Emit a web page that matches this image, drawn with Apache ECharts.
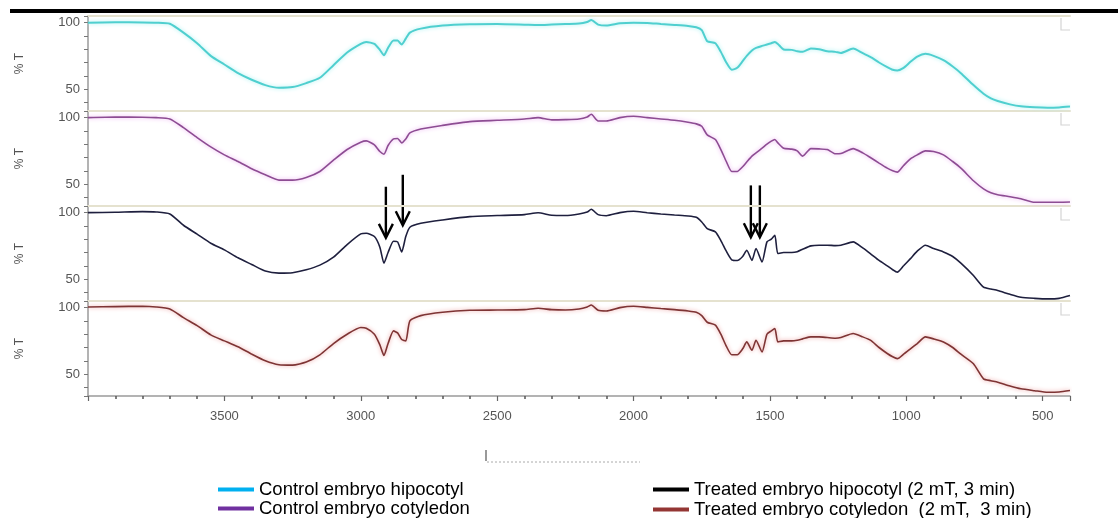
<!DOCTYPE html>
<html>
<head>
<meta charset="utf-8">
<script src="https://cdn.jsdelivr.net/npm/echarts@6/dist/echarts.min.js"></script>
<style>
html,body{margin:0;padding:0;background:#ffffff;}
#c{width:1118px;height:518px;}
</style>
</head>
<body>
<div id="c"></div>
<script>
// ---- data (wavenumber in cm-1, transmittance in %T) ----
const wavenumbers = [
  4000, 3900, 3800, 3750, 3700, 3650, 3600, 3550, 3500, 3450,
  3400, 3350, 3300, 3250, 3200, 3150, 3100, 3050, 3000, 2980,
  2950, 2930, 2915, 2900, 2880, 2865, 2850, 2835, 2820, 2780,
  2700, 2600, 2500, 2400, 2350, 2300, 2250, 2200, 2170, 2155,
  2130, 2100, 2050, 2000, 1950, 1900, 1850, 1800, 1770, 1750,
  1730, 1700, 1680, 1660, 1640, 1620, 1600, 1585, 1566, 1551,
  1529, 1511, 1495, 1482, 1471, 1450, 1420, 1400, 1380, 1350,
  1320, 1290, 1260, 1240, 1195, 1160, 1132, 1100, 1070, 1050,
  1033, 1010, 985, 960, 930, 900, 864, 830, 800, 754,
  717, 690, 665, 620, 580, 530, 482, 440, 400
];
const controlHipocotyl = [
  100, 100.3, 100.2, 100, 99.2, 92.5, 84.5, 75, 68.5, 62,
  57, 53, 51, 51.5, 54.5, 58.5, 68, 77.5, 84, 85.5,
  84, 79.5, 75.5, 81, 86.5, 86.5, 83.5, 88, 92.5, 95.5,
  97.8, 98.8, 99, 98.5, 98.2, 98.6, 99, 99.3, 100.5, 102,
  98.5, 97.8, 99.5, 100, 99.8, 99, 98.3, 97.5, 96.5, 94.4,
  86, 84.5, 78, 70, 64.5, 66, 71, 75, 79, 81,
  82.5, 83.5, 84.5, 85.5, 84, 79.8, 79.5, 78.5, 78, 80.5,
  80, 78.5, 78, 77.2, 80.5, 77, 74.2, 70, 66.5, 64.5,
  64, 66, 70.5, 74.5, 76.5, 75, 71.7, 67, 62, 53,
  46.5, 43, 41, 38.5, 37, 36.3, 36, 36.2, 36.8
];
const controlCotyledon = [
  100, 100.5, 100.3, 100, 99, 92.5, 85, 78, 72, 67,
  61.5, 57, 53, 53, 55, 59.5, 68, 76, 81.5, 82.5,
  79.5, 74.5, 72.5, 79, 84, 84.3, 81, 84, 88.5, 91.5,
  94.2, 97, 98, 99, 100, 98.3, 98.5, 99, 100.5, 102.5,
  97.5, 97.5, 100, 101, 100, 99, 98, 96.5, 95.3, 93.5,
  87, 83.5, 76, 67, 59.5, 59.5, 63, 66.6, 71, 73.5,
  77, 80, 82.3, 83.6, 81, 77, 76.3, 75, 71, 76.7,
  76.5, 76, 72.8, 73, 76.7, 73.5, 70, 65.8, 62, 60,
  59, 64, 69, 72, 75, 74.5, 72, 67, 62, 52.5,
  46.4, 43.5, 42, 40.5, 39, 36.3, 36.3, 36.3, 36.5
];
const treatedHipocotyl = [
  100, 100.3, 100.8, 100.5, 99, 90.5, 83.8, 77, 72, 66,
  61, 56, 54.5, 54.8, 57, 60.5, 66.5, 76, 84, 84.5,
  82, 74, 62, 70, 78.5, 78, 70.4, 82, 89, 92,
  94.5, 97, 97.8, 98.5, 99.9, 98, 97.8, 99, 100.5, 102.5,
  98.5, 97.7, 100, 101, 99.9, 99, 98.2, 97.5, 96.5, 93,
  88, 85.5, 79, 71, 64.5, 64, 67, 71.7, 64, 73,
  62.8, 78, 80, 83, 69.2, 70, 70, 70.6, 72.5, 75,
  75.5, 75.5, 75.2, 75.5, 78, 73.5, 69.2, 64, 60, 57,
  55.2, 60, 65.4, 71, 75.5, 73, 70.4, 67, 62, 52.7,
  43.9, 42.5, 41.4, 38.5, 36.3, 35.5, 35.1, 35.5, 37.6
];
const treatedCotyledon = [
  100.5, 100.8, 101, 100.5, 99, 92.5, 86.5, 79.5, 75, 70.5,
  65, 60, 57, 56.7, 59, 64.5, 73, 80, 85, 84.5,
  80, 72, 64, 73, 82.5, 81, 76, 75, 90, 94,
  96.5, 98, 98.2, 98.5, 99.5, 98.5, 98.2, 99, 100.5, 102,
  98, 97.5, 100, 101, 100.2, 99.3, 98.5, 97.5, 96.5, 94,
  89, 86.8, 80, 71, 64.5, 64.5, 69, 74.2, 67.9, 75.5,
  66.6, 80, 82.5, 84.3, 74.2, 75, 75, 75.5, 76.5, 78,
  78, 77.5, 77, 77.5, 80.5, 78, 75.5, 70, 65.5, 63,
  61.6, 65, 69, 73, 78, 76.5, 74.2, 70, 65, 57.8,
  46.4, 45, 43.9, 41, 38.9, 37.5, 36.3, 36.5, 37.6
];
const seriesNames = [
  'Control embryo hipocotyl',
  'Control embryo cotyledon',
  'Treated embryo hipocotyl (2 mT, 3 min)',
  'Treated embryo cotyledon  (2 mT,  3 min)'
];
const xTickLabels = [3500, 3000, 2500, 2000, 1500, 1000, 500];
const yTickLabels = [50, 100];
const yAxisTitle = '% T';
// arrow annotations (wavenumber, %T of top and tip in the treated-hipocotyl panel)
const arrowWavenumbers = [2908, 2846, 1570, 1537];
const arrowTopValues = [119.5, 128.5, 120.5, 120.5];
const arrowTipValues = [81, 90.5, 81.5, 81.5];

// ---- styling ----
const lineColors = ['#4fcfcf', '#8d4c93', '#1e1f3e', '#7e3434'];
const glowColors = ['#a6f0f0', '#eaa8ef', 'rgba(0,0,0,0)', '#eb9a9a'];
const legendColors = ['#00b0f0', '#7030a0', '#000000', '#943634'];
const legendSpots = [[218, 480], [218, 499], [653, 480], [653, 500]];
const valueSets = [controlHipocotyl, controlCotyledon, treatedHipocotyl, treatedCotyledon];

const GRID_TOP = 16, GRID_H = 95, GRID_LEFT = 88, GRID_RIGHT = 48;
const Y_MIN = 33.5, Y_MAX = 105;
const FONT = '"Liberation Sans", Arial, sans-serif';

const grids = [], xAxes = [], yAxes = [], series = [];
for (let i = 0; i < 4; i++) {
  grids.push({left: GRID_LEFT, right: GRID_RIGHT, top: GRID_TOP + GRID_H * i, height: GRID_H});
  xAxes.push({
    gridIndex: i, type: 'value', min: -4000, max: -400, position: 'top',
    axisLine: {show: true, lineStyle: {color: '#e5e2cf', width: 2}},
    axisTick: {show: false}, axisLabel: {show: false}, splitLine: {show: false}
  });
  yAxes.push({
    gridIndex: i, type: 'value', min: Y_MIN, max: Y_MAX, splitNumber: 7,
    axisLine: {show: true, lineStyle: {color: '#9a9a9a', width: 1.5}},
    axisTick: {show: true, length: 4, lineStyle: {color: '#777'}},
    axisLabel: {
      color: '#555', fontSize: 13, fontFamily: FONT, margin: 8,
      formatter: v => (yTickLabels.indexOf(v) >= 0 ? String(v) : '')
    },
    splitLine: {show: false},
    name: yAxisTitle, nameLocation: 'middle', nameRotate: 90, nameGap: 62,
    nameTextStyle: {color: '#555', fontSize: 12, fontFamily: FONT}
  });
}
// bottom wavenumber axis (values negated so the scale runs 4000 -> 400)
xAxes.push({
  gridIndex: 3, type: 'value', min: -4000, max: -400, interval: 500, position: 'bottom',
  axisLine: {show: true, lineStyle: {color: '#9a9a9a', width: 1.5}},
  axisTick: {show: true, length: 5, lineStyle: {color: '#666', width: 1.2}},
  minorTick: {show: true, splitNumber: 5, length: 3, lineStyle: {color: '#555', width: 1.5}},
  axisLabel: {
    color: '#555', fontSize: 13, fontFamily: FONT, margin: 14,
    formatter: v => (xTickLabels.indexOf(-v) >= 0 ? String(-v) : '')
  },
  splitLine: {show: false}
});

for (let i = 0; i < 4; i++) {
  series.push({
    name: seriesNames[i], type: 'line',
    xAxisIndex: i === 3 ? 4 : i, yAxisIndex: i,
    data: wavenumbers.map((w, k) => [-w, valueSets[i][k]]),
    showSymbol: false, symbol: 'none', smooth: 0.2,
    color: lineColors[i],
    lineStyle: {color: lineColors[i], width: i === 0 ? 2 : 1.6,
      shadowColor: glowColors[i], shadowBlur: i === 2 ? 0 : 4},
    emphasis: {disabled: true}, silent: true
  });
}

const legends = seriesNames.map((n, i) => ({
  left: legendSpots[i][0], top: legendSpots[i][1],
  orient: 'horizontal', itemWidth: 36, itemHeight: 4, icon: 'rect',
  selectedMode: false, padding: 0,
  textStyle: {color: '#000', fontSize: 18.5, fontFamily: FONT},
  data: [{name: n, itemStyle: {color: legendColors[i]}}]
}));

const chart = echarts.init(document.getElementById('c'));
chart.setOption({
  animation: false,
  backgroundColor: '#ffffff',
  grid: grids, xAxis: xAxes, yAxis: yAxes, series: series, legend: legends
});

// decorations
const graphics = [
  {type: 'rect', shape: {x: 10, y: 9, width: 1108, height: 4}, style: {fill: '#000'}},
  {type: 'line', shape: {x1: 486, y1: 450, x2: 486, y2: 461}, style: {stroke: '#777', lineWidth: 1.5}},
  {type: 'line', shape: {x1: 487, y1: 462, x2: 640, y2: 462}, style: {stroke: '#aaa', lineWidth: 1, lineDash: [2, 2]}}
];
for (let i = 0; i < 4; i++) {
  const t = GRID_TOP + GRID_H * i;
  graphics.push({type: 'polyline', shape: {points: [[1061, t + 2], [1061, t + 14], [1070, t + 14]]},
    style: {stroke: '#d4d4d4', lineWidth: 1.2, fill: null}});
}
arrowWavenumbers.forEach((w, k) => {
  const top = chart.convertToPixel({xAxisIndex: 2, yAxisIndex: 2}, [-w, arrowTopValues[k]]);
  const tip = chart.convertToPixel({xAxisIndex: 2, yAxisIndex: 2}, [-w, arrowTipValues[k]]);
  graphics.push({type: 'line', shape: {x1: top[0], y1: top[1], x2: tip[0], y2: tip[1] - 1},
    style: {stroke: '#000', lineWidth: 2.4}});
  graphics.push({type: 'polyline', shape: {points: [[tip[0] - 7, tip[1] - 14], [tip[0], tip[1]], [tip[0] + 7, tip[1] - 14]]},
    style: {stroke: '#000', lineWidth: 2.4, fill: null}});
});
chart.setOption({graphic: graphics});
</script>
</body>
</html>
